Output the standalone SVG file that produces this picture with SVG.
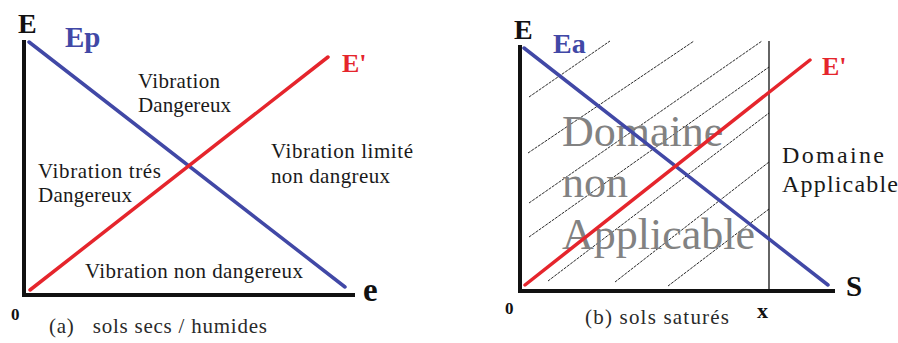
<svg xmlns="http://www.w3.org/2000/svg" width="898" height="343" viewBox="0 0 898 343">
<style>
.ax{stroke:#111;stroke-width:4;fill:none;stroke-linecap:square}
.blue{stroke:#4148A6;stroke-width:3.5;fill:none;stroke-linecap:round}
.red{stroke:#E5252C;stroke-width:3.5;fill:none;stroke-linecap:round}
.hatch{stroke:#111;stroke-width:0.9;fill:none;stroke-dasharray:3 1}
text{font-family:"Liberation Serif","Times New Roman",serif}
.lbl{font-weight:bold;fill:#111}
.t{font-size:21px;fill:#1a1a1a}
.big{font-size:44px;fill:#828282}
</style>
<rect width="898" height="343" fill="#fff"/>
<g id="panel-a">
  <g id="axes-a">
    <polyline class="ax" points="24,42 24,295 353,295"/>
  </g>
  <g id="connectors-a">
    <line class="blue" x1="29" y1="42" x2="345" y2="287"/>
    <line class="red" x1="30" y1="290" x2="328" y2="57"/>
  </g>
  <g id="labels-a">
    <text class="lbl" x="18" y="33" font-size="28">E</text>
    <text class="lbl" x="65" y="47" font-size="29" style="fill:#4148A6">Ep</text>
    <text class="lbl" x="342" y="72" font-size="26" style="fill:#E5252C">E'</text>
    <text class="lbl" x="363" y="301" font-size="33">e</text>
    <text class="lbl" x="11" y="320" font-size="17">0</text>
    <text class="t" x="138" y="88" textLength="82" lengthAdjust="spacing">Vibration</text>
    <text class="t" x="138" y="112" textLength="93" lengthAdjust="spacing">Dangereux</text>
    <text class="t" x="38" y="178" textLength="123" lengthAdjust="spacing">Vibration trés</text>
    <text class="t" x="38" y="202" textLength="94" lengthAdjust="spacing">Dangereux</text>
    <text class="t" x="271" y="158" textLength="142" lengthAdjust="spacing">Vibration limité</text>
    <text class="t" x="271" y="183" textLength="119" lengthAdjust="spacing">non dangreux</text>
    <text class="t" x="85" y="278" textLength="218" lengthAdjust="spacing">Vibration non dangereux</text>
    <text class="t" x="49" y="333" textLength="218" lengthAdjust="spacing" style="white-space:pre;fill:#2a2a2a">(a)   sols secs / humides</text>
  </g>
</g>
<g id="panel-b">
  <g id="hatching">
    <line class="hatch" x1="529" y1="97" x2="610" y2="41"/>
    <line class="hatch" x1="528" y1="153" x2="694" y2="41"/>
    <line class="hatch" x1="529" y1="203" x2="762" y2="41"/>
    <line class="hatch" x1="529" y1="237" x2="769" y2="67"/>
    <line class="hatch" x1="548" y1="281" x2="769" y2="113"/>
    <line class="hatch" x1="615" y1="282" x2="769" y2="162"/>
    <line class="hatch" x1="668" y1="286" x2="769" y2="209"/>
  </g>
  <g id="axes-b">
    <polyline class="ax" points="520,47 520,291 833,291"/>
    <line x1="769" y1="41" x2="769" y2="291" stroke="#111" stroke-width="1.3"/>
  </g>
  <g id="big-text">
    <text class="big" x="562" y="146">Domaine</text>
    <text class="big" x="562" y="197">non</text>
    <text class="big" x="562" y="249">Applicable</text>
  </g>
  <g id="connectors-b">
    <line class="blue" x1="524" y1="48" x2="828" y2="285"/>
    <line class="red" x1="525" y1="285" x2="810" y2="60"/>
  </g>
  <g id="labels-b">
    <text class="lbl" x="514" y="39" font-size="28">E</text>
    <text class="lbl" x="553" y="53" font-size="28" style="fill:#4148A6">Ea</text>
    <text class="lbl" x="822" y="75" font-size="26" style="fill:#E5252C">E'</text>
    <text class="lbl" x="846" y="296" font-size="29">S</text>
    <text class="lbl" x="505" y="314" font-size="17">0</text>
    <text class="lbl" x="757" y="318" font-size="22">x</text>
    <text class="t" x="782" y="163" style="font-size:24px" textLength="102" lengthAdjust="spacing">Domaine</text>
    <text class="t" x="782" y="192" style="font-size:24px" textLength="116" lengthAdjust="spacing">Applicable</text>
    <text class="t" x="585" y="324" textLength="144" lengthAdjust="spacing" style="fill:#2a2a2a">(b) sols saturés</text>
  </g>
</g>
</svg>
